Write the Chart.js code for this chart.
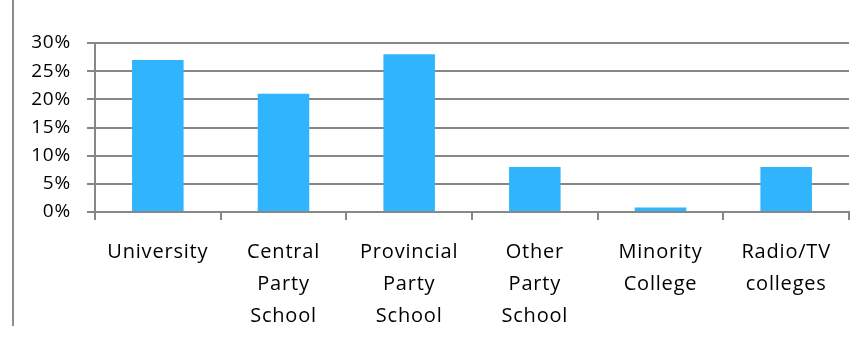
<!DOCTYPE html>
<html>
<head>
<meta charset="utf-8">
<script src="https://cdn.jsdelivr.net/npm/chart.js@4"></script>
<style>
  html, body { margin: 0; padding: 0; background: #fff; }
  #wrap { position: relative; width: 863px; height: 338px; }
  #leftline { position: absolute; left: 12px; top: 0; width: 2px; height: 326px; background: #8c8c8c; }
  canvas { position: absolute; left: 0; top: 0; }
</style>
</head>
<body>
<div id="wrap">
  <div id="leftline"></div>
  <canvas id="c" width="863" height="338"></canvas>
</div>
<script>
const categories = [
  'University',
  ['Central', 'Party', 'School'],
  ['Provincial', 'Party', 'School'],
  ['Other', 'Party', 'School'],
  ['Minority', 'College'],
  ['Radio/TV', 'colleges']
];
const shares = [0.27, 0.21, 0.28, 0.08, 0.008, 0.08];
const yTickMin = 0;
const yTickMax = 0.30;
const yTickStep = 0.05;

const spacing = {
  id: 'spacing',
  beforeLayout(chart) { chart.ctx.letterSpacing = '0.8px'; },
  beforeDraw(chart) { chart.ctx.letterSpacing = '0.8px'; }
};

const gridColor = '#878787';
const fam = '"Open Sans", Lato, sans-serif';

new Chart(document.getElementById('c'), {
  type: 'bar',
  data: {
    labels: categories,
    datasets: [{
      data: shares,
      backgroundColor: '#31b4fe',
      borderWidth: 0,
      categoryPercentage: 1,
      barPercentage: 0.41
    }]
  },
  options: {
    responsive: false,
    animation: false,
    layout: { padding: { top: 43, right: 14, left: 0, bottom: 0 } },
    plugins: { legend: { display: false }, tooltip: { enabled: false } },
    scales: {
      x: {
        grid: { display: true, drawOnChartArea: false, color: gridColor, lineWidth: 2, tickLength: 8, offset: true },
        border: { display: true, color: gridColor, width: 2 },
        ticks: { color: '#000', font: { family: fam, size: 20, lineHeight: 1.6 }, padding: 16, maxRotation: 0, autoSkip: false },
        afterFit(scale) { scale.height = 126; }
      },
      y: {
        min: yTickMin,
        max: yTickMax,
        grid: { color: gridColor, lineWidth: 2, tickLength: 8 },
        border: { display: true, color: gridColor, width: 2 },
        ticks: {
          stepSize: yTickStep,
          color: '#000',
          font: { family: fam, size: 19 },
          padding: 16,
          callback: v => Math.round(v * 100) + '%'
        },
        afterFit(scale) { scale.width = 95; }
      }
    }
  },
  plugins: [spacing]
});
</script>
</body>
</html>
